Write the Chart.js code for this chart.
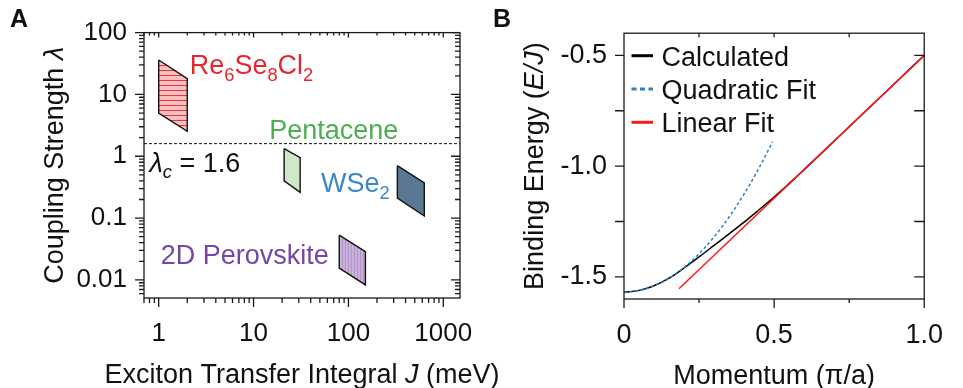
<!DOCTYPE html>
<html>
<head>
<meta charset="utf-8">
<script src="https://cdn.jsdelivr.net/npm/chart.js@4.4.1/dist/chart.umd.min.js"></script>
<style>
  body { margin: 0; background: #fff; }
  #wrap { position: relative; width: 963px; height: 388px; }
  canvas { position: absolute; left: 0; top: 0; }
</style>
</head>
<body>
<div id="wrap">
  <canvas id="chartA" width="963" height="388"></canvas>
  <canvas id="chartB" width="963" height="388"></canvas>
</div>
<script>
// ---------- panel A : coupling strength vs transfer integral ----------
const materials = ['Re6Se8Cl2', 'Pentacene', 'WSe2', '2D Perovskite'];
const jLow = [1, 21, 328, 80];              // meV, left edge of each region
const jHigh = [2, 31, 631, 151];            // meV, right edge
const lambdaTopLow = [36, 1.33, 0.705, 0.053];
const lambdaBotLow = [5.0, 0.40, 0.211, 0.0155];
const lambdaTopHigh = [18, 0.95, 0.372, 0.0286];
const lambdaBotHigh = [2.53, 0.26, 0.108, 0.0083];
const lambdaC = 1.6;
const xTicksA = [1, 10, 100, 1000];
const yTicksA = [0.01, 0.1, 1, 10, 100];

// ---------- panel B : binding energy dispersion ----------
const momentum = [0, 0.05, 0.1, 0.15, 0.2, 0.25, 0.3, 0.35, 0.4, 0.45, 0.5, 0.55, 0.6, 0.7, 0.8, 0.9, 1.0];
const calculated = [-1.569, -1.561, -1.540, -1.506, -1.460, -1.410, -1.358, -1.306, -1.253, -1.197, -1.140, -1.079, -1.016, -0.887, -0.758, -0.629, -0.5];
const quadMomentum = [0, 0.05, 0.1, 0.15, 0.2, 0.25, 0.3, 0.35, 0.4, 0.45, 0.495];
const quadFit = [-1.569, -1.562, -1.541, -1.507, -1.458, -1.396, -1.320, -1.230, -1.126, -1.008, -0.890];
const linMomentum = [0.183, 1.0];
const linFit = [-1.554, -0.5];
const xTicksB = [0, 0.5, 1.0];
const xTickLabelsB = ['0', '0.5', '1.0'];
const xMinorB = [0.25, 0.75];
const yTicksB = [-1.5, -1.0, -0.5];
const yTickLabelsB = ['-1.5', '-1.0', '-0.5'];
const yMinorB = [-1.25, -0.75];

const FAMILY = "'Liberation Sans', Arial, Helvetica, sans-serif";
const INK = '#111';

function drawRich(ctx, x, y, segs, size, color, align) {
  const parts = segs.map(([t, st]) => {
    const sub = st.includes('s'), it = st.includes('i');
    const fs = sub ? size * 0.68 : size;
    const font = (it ? 'italic ' : '') + fs + 'px ' + FAMILY;
    ctx.font = font;
    return { t, font, dy: sub ? size * 0.24 : 0, w: ctx.measureText(t).width };
  });
  const total = parts.reduce((s, p) => s + p.w, 0);
  let cx = align === 'center' ? x - total / 2 : x;
  ctx.fillStyle = color;
  ctx.textAlign = 'left';
  ctx.textBaseline = 'alphabetic';
  parts.forEach(p => { ctx.font = p.font; ctx.fillText(p.t, cx, y + p.dy); cx += p.w; });
}

// axis titles, panel letter and free labels
const richText = {
  id: 'richText',
  afterDraw(chart, args, o) {
    const { ctx, chartArea: a } = chart;
    ctx.save();
    ctx.font = 'bold 25px ' + FAMILY;
    ctx.fillStyle = INK;
    ctx.textAlign = 'left';
    ctx.textBaseline = 'alphabetic';
    ctx.fillText(o.letter, a.left - o.letterDx, 27);
    drawRich(ctx, (a.left + a.right) / 2, a.bottom + 85, o.xTitle, 27, INK, 'center');
    ctx.save();
    ctx.translate(a.left - 81, (a.top + a.bottom) / 2);
    ctx.rotate(-Math.PI / 2);
    drawRich(ctx, 0, 0, o.yTitle, 27, INK, 'center');
    ctx.restore();
    (o.labels || []).forEach(l => {
      const px = chart.scales.x.getPixelForValue(l.x);
      const py = chart.scales.y.getPixelForValue(l.y);
      drawRich(ctx, px, py, l.segs, 27, l.color, 'left');
    });
    ctx.restore();
  }
};

// box frame with outward ticks on left/bottom and mirrored inward ticks
const frameTicks = {
  id: 'frameTicks',
  afterDatasetsDraw(chart, args, o) {
    const { ctx, chartArea: a, scales: { x, y } } = chart;
    ctx.save();
    ctx.strokeStyle = '#1a1a1a';
    ctx.lineWidth = 1.3;
    ctx.beginPath();
    const seg = (x1, y1, x2, y2) => { ctx.moveTo(x1, y1); ctx.lineTo(x2, y2); };
    o.bottom.forEach(([v, len]) => { const p = x.getPixelForValue(v); seg(p, a.bottom, p, a.bottom + len); });
    o.top.forEach(([v, len]) => { const p = x.getPixelForValue(v); seg(p, a.top, p, a.top + len); });
    o.left.forEach(([v, len]) => { const p = y.getPixelForValue(v); seg(a.left, p, a.left - len, p); });
    o.right.forEach(([v, len]) => { const p = y.getPixelForValue(v); seg(a.right, p, a.right - len, p); });
    ctx.stroke();
    ctx.strokeRect(a.left, a.top, a.right - a.left, a.bottom - a.top);
    ctx.restore();
  }
};

// legend drawn inside the plot area (panel B)
const insideLegend = {
  id: 'insideLegend',
  afterDraw(chart, args, o) {
    if (!o.show) return;
    const { ctx, chartArea: a } = chart;
    ctx.save();
    chart.data.datasets.forEach((ds, i) => {
      const cy = a.top + 22.5 + i * 33.3;
      ctx.strokeStyle = ds.borderColor;
      ctx.lineWidth = 3;
      ctx.setLineDash(ds.borderDash ? [5, 3.5] : []);
      ctx.beginPath();
      ctx.moveTo(a.left + 7.5, cy);
      ctx.lineTo(a.left + 29, cy);
      ctx.stroke();
      ctx.setLineDash([]);
      ctx.font = '27px ' + FAMILY;
      ctx.fillStyle = INK;
      ctx.textBaseline = 'alphabetic';
      ctx.fillText(ds.label, a.left + 37.5, cy + 10);
    });
    ctx.restore();
  }
};

function logPositions(min, max) {
  const out = [];
  for (let e = Math.floor(Math.log10(min)); e <= Math.ceil(Math.log10(max)); e++) {
    for (let m = 1; m <= 9; m++) {
      const v = m * Math.pow(10, e);
      if (v >= min * 0.999 && v <= max * 1.001) out.push(v);
    }
  }
  return out;
}

function tickSet(values, majors, lenMajor, lenMinor) {
  return values.map(v => [v, majors.some(m => Math.abs(m - v) < 1e-9 * Math.max(1, Math.abs(m))) ? lenMajor : lenMinor]);
}

function makePattern(w, h, draw) {
  const c = document.createElement('canvas');
  c.width = w; c.height = h;
  draw(c.getContext('2d'), w, h);
  return document.getElementById('chartA').getContext('2d').createPattern(c, 'repeat');
}

const fillRe = makePattern(4, 5, (g, w, h) => {
  g.fillStyle = '#f8bfc0'; g.fillRect(0, 0, w, h);
  g.fillStyle = '#e8363c'; g.fillRect(0, 0, w, 1);
});
const fillPent = '#cfe8c8';
const fillWse = makePattern(2, 2, (g, w, h) => {
  g.fillStyle = '#5f7f9b'; g.fillRect(0, 0, w, h);
  g.fillStyle = '#52718d'; g.fillRect(0, 0, 1, 1); g.fillRect(1, 1, 1, 1);
});
const fillPer = makePattern(3, 1, (g, w, h) => {
  g.fillStyle = '#cbb0da'; g.fillRect(0, 0, w, h);
  g.fillStyle = '#b394c8'; g.fillRect(0, 0, 1, h);
});
const regionFills = [fillRe, fillPent, fillWse, fillPer];

const X_MIN_A = 0.7, X_MAX_A = 1500, Y_MIN_A = 0.0051, Y_MAX_A = 100;

const regionSets = materials.map((m, i) => ({
  label: m,
  data: [
    { x: jLow[i], y: lambdaTopLow[i] },
    { x: jHigh[i], y: lambdaTopHigh[i] },
    { x: jHigh[i], y: lambdaBotHigh[i] },
    { x: jLow[i], y: lambdaBotLow[i] },
    { x: jLow[i], y: lambdaTopLow[i] }
  ],
  showLine: true,
  fill: 'shape',
  backgroundColor: regionFills[i],
  borderColor: INK,
  borderWidth: 1.4,
  pointRadius: 0,
  tension: 0
}));
regionSets.push({
  label: 'lambda_c',
  data: [{ x: X_MIN_A, y: lambdaC }, { x: X_MAX_A, y: lambdaC }],
  showLine: true,
  fill: false,
  borderColor: INK,
  borderWidth: 1,
  borderDash: [3, 2],
  pointRadius: 0
});

const tickFont = { family: FAMILY, size: 26 };

new Chart(document.getElementById('chartA'), {
  type: 'scatter',
  data: { datasets: regionSets },
  options: {
    responsive: false,
    animation: false,
    devicePixelRatio: 1,
    layout: { padding: { left: 0, top: 29, right: 503, bottom: 0 } },
    scales: {
      x: {
        type: 'logarithmic', min: X_MIN_A, max: X_MAX_A,
        afterBuildTicks: s => { s.ticks = xTicksA.map(v => ({ value: v })); },
        afterFit: s => { s.height = 90; },
        ticks: { font: tickFont, color: INK, padding: 20, maxRotation: 0, autoSkip: false, callback: v => String(v) },
        grid: { display: false, drawTicks: false, tickLength: 0 },
        border: { display: false }
      },
      y: {
        type: 'logarithmic', min: Y_MIN_A, max: Y_MAX_A,
        afterBuildTicks: s => { s.ticks = yTicksA.map(v => ({ value: v })); },
        afterFit: s => { s.width = 144; },
        ticks: { font: tickFont, color: INK, padding: 17, autoSkip: false, callback: v => String(v) },
        grid: { display: false, drawTicks: false, tickLength: 0 },
        border: { display: false }
      }
    },
    plugins: {
      legend: { display: false },
      tooltip: { enabled: false },
      frameTicks: {
        bottom: tickSet(logPositions(X_MIN_A, X_MAX_A), xTicksA, 9, 5),
        top: tickSet(logPositions(X_MIN_A, X_MAX_A), xTicksA, 5, 3),
        left: tickSet(logPositions(Y_MIN_A, Y_MAX_A), yTicksA, 9, 5),
        right: tickSet(logPositions(Y_MIN_A, Y_MAX_A), yTicksA, 9, 5)
      },
      richText: {
        letter: 'A', letterDx: 134,
        xTitle: [['Exciton Transfer Integral ', ''], ['J', 'i'], [' (meV)', '']],
        yTitle: [['Coupling Strength ', ''], ['λ', 'i']],
        labels: [
          { x: 2.12, y: 21.1, color: '#e8262d', segs: [['Re', ''], ['6', 's'], ['Se', ''], ['8', 's'], ['Cl', ''], ['2', 's']] },
          { x: 14.6, y: 1.93, color: '#4caf50', segs: [['Pentacene', '']] },
          { x: 0.80, y: 0.565, color: INK, segs: [['λ', 'i'], ['c', 'si'], [' = 1.6', '']] },
          { x: 51.4, y: 0.264, color: '#3a88c8', segs: [['WSe', ''], ['2', 's']] },
          { x: 1.05, y: 0.0182, color: '#7646a6', segs: [['2D Perovskite', '']] }
        ]
      },
      insideLegend: { show: false }
    }
  },
  plugins: [frameTicks, richText, insideLegend]
});

const toXY = (xs, ys) => xs.map((v, i) => ({ x: v, y: ys[i] }));

new Chart(document.getElementById('chartB'), {
  type: 'scatter',
  data: {
    datasets: [
      { label: 'Calculated', data: toXY(momentum, calculated), showLine: true, borderColor: '#000', borderWidth: 1.5, pointRadius: 0, cubicInterpolationMode: 'monotone', order: 3 },
      { label: 'Quadratic Fit', data: toXY(quadMomentum, quadFit), showLine: true, borderColor: '#2f80c0', borderWidth: 1.5, borderDash: [3, 2.5], pointRadius: 0, cubicInterpolationMode: 'monotone', order: 2 },
      { label: 'Linear Fit', data: toXY(linMomentum, linFit), showLine: true, borderColor: '#ff1a1a', borderWidth: 1.5, pointRadius: 0, order: 1 }
    ]
  },
  options: {
    responsive: false,
    animation: false,
    devicePixelRatio: 1,
    layout: { padding: { left: 480, top: 29, right: 22, bottom: 0 } },
    scales: {
      x: {
        type: 'linear', min: 0, max: 1,
        afterBuildTicks: s => { s.ticks = xTicksB.map(v => ({ value: v })); },
        afterFit: s => { s.height = 89; },
        ticks: { font: { family: FAMILY, size: 27 }, color: INK, padding: 20, maxRotation: 0, autoSkip: false, callback: (v, i) => xTickLabelsB[i] },
        grid: { display: false, drawTicks: false, tickLength: 0 },
        border: { display: false }
      },
      y: {
        type: 'linear', min: -1.6, max: -0.4,
        afterBuildTicks: s => { s.ticks = yTicksB.map(v => ({ value: v })); },
        afterFit: s => { s.width = 144; },
        ticks: { font: { family: FAMILY, size: 27 }, color: INK, padding: 17, autoSkip: false, callback: (v, i) => yTickLabelsB[i] },
        grid: { display: false, drawTicks: false, tickLength: 0 },
        border: { display: false }
      }
    },
    plugins: {
      legend: { display: false },
      tooltip: { enabled: false },
      frameTicks: {
        bottom: tickSet(xTicksB.concat(xMinorB), xTicksB, 9, 4),
        top: tickSet(xMinorB.concat([0.5]), [], 4, 4),
        left: tickSet(yTicksB.concat(yMinorB), yTicksB, 9, 9),
        right: tickSet(yTicksB.concat(yMinorB), yTicksB, 10, 10)
      },
      richText: {
        letter: 'B', letterDx: 131,
        xTitle: [['Momentum (π/a)', '']],
        yTitle: [['Binding Energy (', ''], ['E/J', 'i'], [')', '']],
        labels: []
      },
      insideLegend: { show: true }
    }
  },
  plugins: [frameTicks, richText, insideLegend]
});
</script>
</body>
</html>
